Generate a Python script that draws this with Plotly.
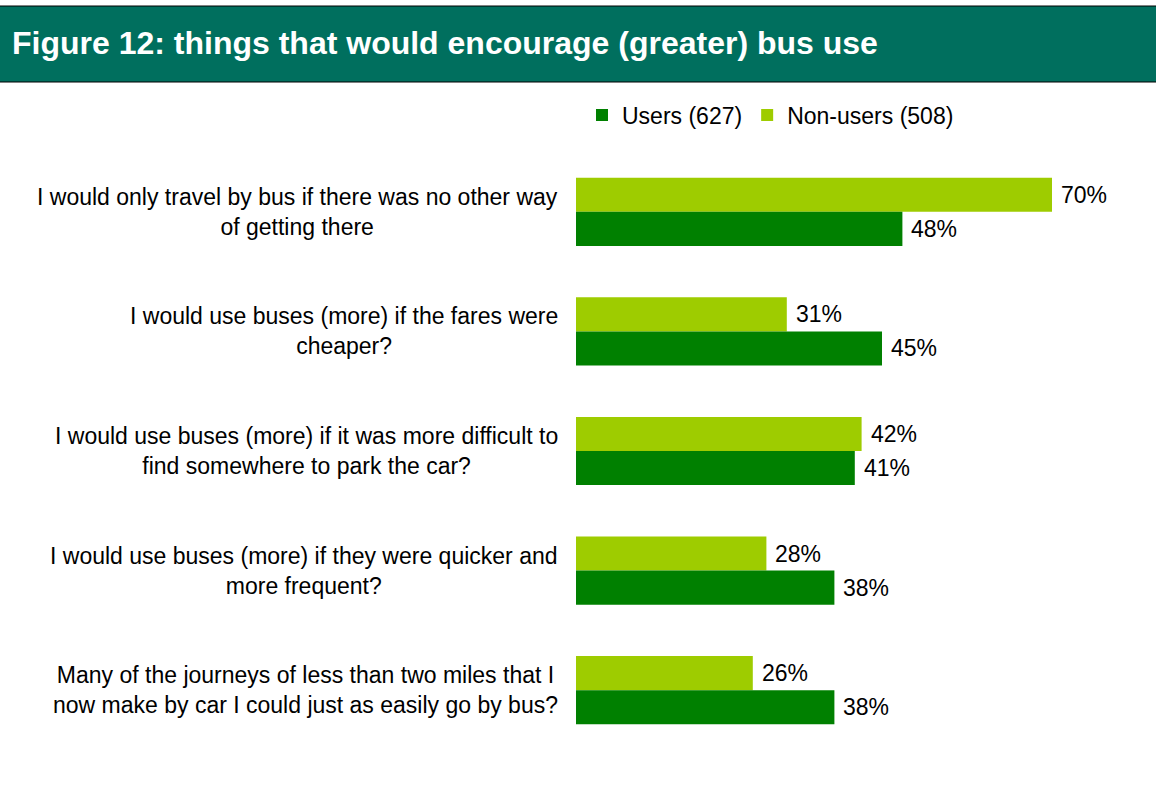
import plotly.graph_objects as go

# Survey statements (top to bottom) and percentages agreeing
categories = [
    "I would only travel by bus if there was no other way<br>of getting there",
    "I would use buses (more) if the fares were<br>cheaper?",
    "I would use buses (more) if it was more difficult to<br>find somewhere to park the car?",
    "I would use buses (more) if they were quicker and<br>more frequent?",
    "Many of the journeys of less than two miles that I<br>now make by car I could just as easily go by bus?",
]
users = [48, 45, 41, 38, 38]
non_users = [70, 31, 42, 28, 26]
series_names = ["Users (627)", "Non-users (508)"]
title_text = "Figure 12: things that would encourage (greater) bus use"

W, H = 1156, 787
ML, MR, MT, MB = 576, 36, 152, 37
PW = W - ML - MR
PH = H - MT - MB


def px_x(p):
    return (p - ML) / PW


def px_y(p):
    return (H - MB - p) / PH


FONT = "Liberation Sans, Arial, sans-serif"
DARK = "#008000"
LIGHT = "#9ecc00"
BANNER = "#006f5e"
FS = 23

fig = go.Figure()
fig.add_trace(go.Bar(
    y=categories, x=non_users, orientation="h", name=series_names[1],
    marker=dict(color=LIGHT, line=dict(width=0)),
))
fig.add_trace(go.Bar(
    y=categories, x=users, orientation="h", name=series_names[0],
    marker=dict(color=DARK, line=dict(width=0)),
))

# Value labels just past the end of each bar
for cat, nu, us in zip(categories, non_users, users):
    for val, shift in ((nu, 17), (us, -17)):
        fig.add_annotation(
            x=val, xref="x", y=cat, yref="y", yshift=shift, xshift=7,
            text=f"{val}%", showarrow=False, xanchor="left", yanchor="middle",
            font=dict(size=FS, color="#000000", family=FONT),
        )

# Statement labels, lines centred within each block
for cat in categories:
    fig.add_annotation(
        x=px_x(560), xref="paper", y=cat, yref="y",
        text=cat, showarrow=False, xanchor="right", yanchor="middle",
        align="center", font=dict(size=FS, color="#000000", family=FONT),
    )

# Title banner
fig.add_shape(type="rect", xref="paper", yref="paper",
              x0=px_x(-2), x1=px_x(W + 2), y0=px_y(82), y1=px_y(6),
              fillcolor=BANNER, line=dict(color="#000000", width=1), layer="below")
fig.add_annotation(
    x=px_x(10), xref="paper", y=px_y(43), yref="paper",
    text=f"<b>{title_text}</b>", showarrow=False, xanchor="left", yanchor="middle",
    font=dict(size=32, color="#ffffff", family=FONT),
)

fig.update_layout(
    width=W, height=H,
    margin=dict(l=ML, r=MR, t=MT, b=MB, pad=0),
    paper_bgcolor="#ffffff", plot_bgcolor="#ffffff",
    barmode="group", bargap=0.43, bargroupgap=0,
    font=dict(family=FONT, size=FS, color="#000000"),
    showlegend=True,
    legend=dict(
        orientation="h", traceorder="reversed",
        x=px_x(582), xanchor="left", y=px_y(115), yanchor="middle",
        font=dict(size=FS, family=FONT, color="#000000"),
        bgcolor="rgba(0,0,0,0)", itemwidth=30,
    ),
    xaxis=dict(range=[0, 80], visible=False, fixedrange=True),
    yaxis=dict(autorange="reversed", showticklabels=False, showgrid=False,
               zeroline=False, showline=False, ticks=""),
)

fig.write_html("out.html")
